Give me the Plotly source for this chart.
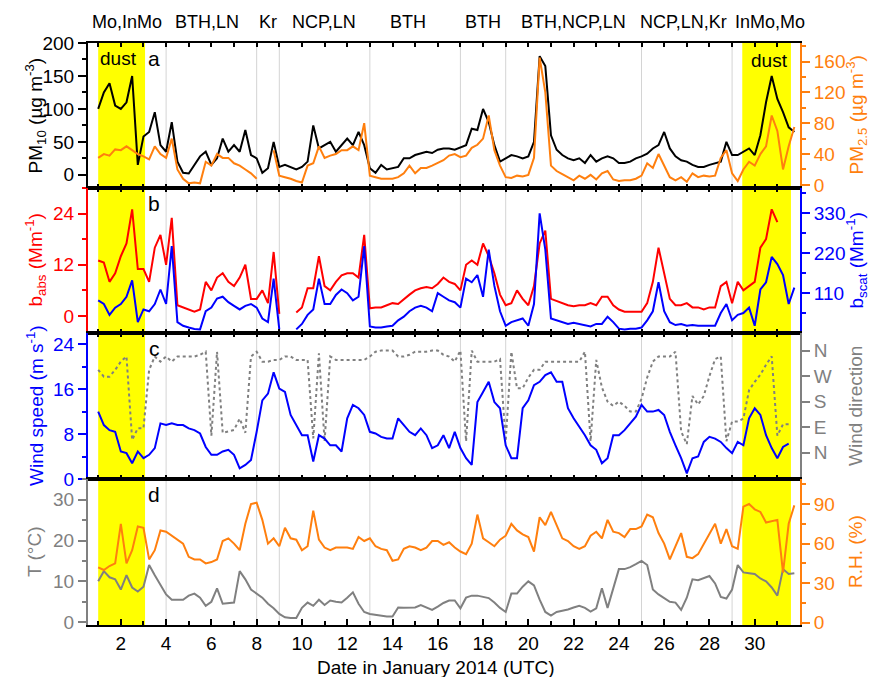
import plotly.graph_objects as go

# ---------------- data (values every 0.25 day, starting 1 Jan 00 UTC) ----------------
DAY_START = 1.0
STEP = 0.25

PM10 = [100,125,139,105,100,110,150,15,
        58,65,95,45,35,80,20,3,
        2,15,28,35,15,25,55,35,
        45,35,68,30,25,3,10,50,
        12,15,12,8,12,20,75,40,
        45,50,35,45,55,45,65,45,
        10,3,15,8,10,12,25,25,
        30,33,35,33,38,40,40,38,
        42,45,70,68,100,80,45,20,
        25,30,28,25,28,50,180,165,
        60,38,30,25,22,25,18,30,
        20,25,28,25,18,18,20,25,
        28,32,40,45,65,40,28,22,
        20,15,12,12,15,18,20,50,
        30,30,35,40,30,60,110,150,
        115,95,72,65]

PM25 = [35,40,38,46,45,50,45,40,
        37,33,50,40,35,60,20,8,
        2,3,2,30,25,40,35,35,
        28,25,20,15,8,None,None,45,
        12,10,8,5,3,25,28,50,
        35,38,40,45,45,50,45,80,
        12,10,8,8,8,10,15,25,
        15,22,22,25,28,32,38,40,
        36,38,48,52,60,90,45,25,
        10,9,12,11,13,35,165,120,
        25,18,14,10,6,12,8,13,
        7,15,18,7,5,6,6,8,
        12,28,22,40,25,10,6,10,
        4,15,10,12,11,12,35,45,
        15,5,20,30,25,40,50,90,
        70,20,50,75]

BABS = [13,12.5,8,10,14,17,25,11,
        11,8,16,19,12,23,2.5,2,
        1.5,1,1.5,8,6,9,10,8,
        7,9,12,4,4,6,3,15,
        0.5,None,None,0.8,2,6.5,6.5,14,
        7,6,8,9.5,10,10,9,19,
        1.8,2,2,2.5,3,2.8,4,5,
        6,6.5,6.8,6.5,7.5,9,8,7.5,
        6,12,13,12,17,14,10,5,
        2.5,3,6,4,2.5,7,17,20,
        4,3.5,3,2.5,2.3,2.5,2.5,3,
        2.5,4.5,4.5,2.5,1.5,1,1,1,
        1,3,8,16,10,4,2.5,2.5,
        3,2,2,1.5,2,2,7,8,
        3,8,6,7,8,16,18,25,
        22,None,None,None]

BSCAT = [90,80,50,70,80,100,145,30,
         65,60,80,120,80,240,30,20,
         15,11,10,60,70,95,100,85,
         75,65,75,80,70,40,30,150,
         10,None,None,10,25,50,65,150,
         80,80,105,120,110,90,100,240,
         18,15,15,18,20,35,45,60,
         70,75,70,60,110,100,90,85,
         70,150,140,160,100,230,130,60,
         20,30,35,40,20,80,330,230,
         40,35,30,25,28,25,20,18,
         25,25,45,30,12,10,12,12,
         15,35,60,140,60,30,22,25,
         20,22,20,20,18,20,55,80,
         35,50,55,70,20,120,140,210,
         190,160,80,125]

WIND_SPEED = [12,9.6,8.7,8.4,4.9,4.6,2.8,4.9,
              3.7,4.3,5.5,9.9,9.6,9.9,9.6,9.6,
              9,8.7,8.1,5.7,4.3,4.3,4.9,5.2,
              4.3,1.9,2.5,3.4,8.4,14,15.2,19,
              16.1,15.5,11.4,9.6,7.8,7.8,3.1,7.8,
              7.2,6,6,4.9,10.8,13.2,12.6,11.4,
              8.4,8.1,7.5,7.2,7.2,10.8,9.6,8.4,
              7.8,9,7.8,5.5,6,7.8,5.5,8.4,
              5.5,3.7,2.5,13.7,15.5,17.3,13.7,12.6,
              6,3.7,3.7,12.6,14,16.7,17.3,18.5,
              19,17.3,17.3,12.6,10.8,9.3,7.8,6,
              5.2,2.8,3.7,7.8,7.8,8.7,9.9,11.1,
              13.2,12,12,12.3,11.4,8.4,6,3.7,
              1,3.7,4,6.6,7.5,7.2,6.6,5.5,
              4.6,6.6,6,10.8,12.6,11.4,7.8,5.5,
              3.7,5.7,6.3,None]

WIND_DIR = [292,268,268,292,321,339,45,86,
            86,292,339,321,339,321,339,339,
            339,339,345,356,60,356,70,75,
            80,120,70,339,356,321,321,327,
            327,339,339,327,327,327,50,350,
            40,339,327,327,327,327,327,327,
            339,356,360,360,360,339,339,345,
            356,356,356,360,360,345,339,321,
            360,40,360,321,321,321,321,330,
            40,356,227,227,265,292,292,321,
            321,321,321,321,321,321,356,40,
            327,230,180,165,180,165,145,145,
            190,265,321,339,339,339,356,75,
            30,200,170,200,270,330,339,40,
            110,110,120,220,250,275,310,340,
            60,100,100,None]

TEMP = [10,12.5,11,10.5,8,11.5,8.5,7.5,
        8.7,14,11.5,9,6.8,5.5,5.5,5.5,
        6.5,7,6,4,5,8.3,4.5,4.7,
        4.8,12.5,10.5,8,7,6,4.5,3.4,
        2,1.2,1,1,3.5,4.8,4,5.5,
        4.2,5.3,5,4.8,6,7.3,4.5,2.5,
        2,1.8,1.6,1.4,1.4,3.6,3.5,3.5,
        3.6,4.2,3.5,3,3.8,4.7,5.3,5.3,
        3.4,6,6.5,6.5,6.2,5.9,4.8,3.5,
        2.5,7,7,8.7,10,9,5.5,2.5,
        1.6,2.5,2.8,3.1,3.6,4,3.5,2.6,
        3.4,8.3,3.5,8.5,13,13,13.5,14.2,
        15,14,8,6.8,5.8,5,4.8,3,
        6,10.5,10.3,10.8,11.3,9.5,6.2,5.8,
        8,14,12.2,12,11.8,10.7,10,8.5,
        6.5,13,11.8,12]

RH = [42,40,43,45,75,45,55,73,
      72,48,55,70,69,66,63,60,
      50,48,48,45,46,48,62,64,
      60,55,75,90,91,78,60,64,
      58,72,64,63,55,58,85,63,
      57,55,57,57,57,56,65,62,
      64,58,56,55,47,48,56,58,
      57,55,57,62,62,59,61,57,
      54,52,60,82,64,61,58,63,
      66,75,70,67,65,54,80,74,
      84,74,64,62,58,56,58,66,
      69,64,78,69,68,65,71,71,
      73,82,80,68,60,48,58,68,
      50,49,52,60,67,75,60,71,
      58,56,88,90,86,84,76,77,
      78,38,75,89]

DAY_TICKS = [2, 4, 6, 8, 10, 12, 14, 16, 18, 20, 22, 24, 26, 28, 30]
DIR_TICKS = [0, 90, 180, 270, 360]
DIR_LABELS = ["N", "E", "S", "W", "N"]

REGION_LABELS = ["Mo,InMo", "BTH,LN", "Kr", "NCP,LN", "BTH", "BTH",
                 "BTH,NCP,LN", "NCP,LN,Kr", "InMo,Mo"]
REGION_CENTERS = [2.27, 5.8, 8.5, 10.98, 14.69, 18.0, 21.98, 26.84, 30.67]
REGION_BOUNDS = [4, 8, 9, 13, 17, 19, 25, 29]
DUST_PERIODS = [(1.0, 3.07), (29.45, 31.6)]

n = len(PM10)
for arr in (PM25, BABS, BSCAT, WIND_SPEED, WIND_DIR, TEMP, RH):
    assert len(arr) == n, len(arr)
days = [DAY_START + STEP * i for i in range(n)]

# ---------------- style ----------------
FONT = "Liberation Sans, Arial, sans-serif"
FS = 19
BLACK = "#000000"
ORANGE = "#FF7F0E"
RED = "#FF0000"
BLUE = "#0000FF"
GRAY = "#808080"
YELLOW = "#FFFF00"

DOM = {"a": [0.7509, 1.0], "b": [0.5017, 0.7509], "c": [0.2509, 0.5017], "d": [0.0, 0.2509]}
XR = [0.55, 32.0]

fig = go.Figure()
fig.add_trace(go.Scatter(x=days, y=PM10, xaxis="x", yaxis="y", mode="lines",
                         line=dict(color=BLACK, width=2)))
fig.add_trace(go.Scatter(x=days, y=PM25, xaxis="x", yaxis="y2", mode="lines",
                         line=dict(color=ORANGE, width=2)))
fig.add_trace(go.Scatter(x=days, y=BABS, xaxis="x2", yaxis="y3", mode="lines",
                         line=dict(color=RED, width=2)))
fig.add_trace(go.Scatter(x=days, y=BSCAT, xaxis="x2", yaxis="y4", mode="lines",
                         line=dict(color=BLUE, width=2)))
fig.add_trace(go.Scatter(x=days, y=WIND_DIR, xaxis="x3", yaxis="y5", mode="lines",
                         line=dict(color=GRAY, width=2, dash="dot")))
fig.add_trace(go.Scatter(x=days, y=WIND_SPEED, xaxis="x3", yaxis="y6", mode="lines",
                         line=dict(color=BLUE, width=2)))
fig.add_trace(go.Scatter(x=days, y=TEMP, xaxis="x4", yaxis="y7", mode="lines",
                         line=dict(color=GRAY, width=2)))
fig.add_trace(go.Scatter(x=days, y=RH, xaxis="x4", yaxis="y8", mode="lines",
                         line=dict(color=ORANGE, width=2)))


def xax(anchor, bottom=False):
    d = dict(domain=[0, 1], range=XR, anchor=anchor, showline=True, linecolor=BLACK,
             linewidth=2, mirror="ticks", showgrid=False, zeroline=False,
             ticks="inside", tickmode="linear", tick0=1, dtick=1, ticklen=4,
             tickwidth=1.5, tickcolor=BLACK, showticklabels=False, automargin=False)
    if bottom:
        d.update(ticks="inside", tickmode="array", tickvals=DAY_TICKS, ticklen=6,
                 showticklabels=True, mirror=True,
                 tickfont=dict(family=FONT, size=FS, color=BLACK),
                 minor=dict(ticks="inside", tick0=1, dtick=2, ticklen=4,
                            tickwidth=1.5, tickcolor=BLACK))
    return d


def yax(color, rng, side, anchor, domain=None, overlaying=None, dtick=None,
        minor_dtick=None, tickvals=None, ticktext=None, minor_vals=None):
    d = dict(range=rng, side=side, anchor=anchor, showline=True, linecolor=color,
             linewidth=2, ticks="outside", ticklen=8, tickwidth=1.5, tickcolor=color,
             showgrid=False, zeroline=False, automargin=False,
             tickfont=dict(family=FONT, size=FS, color=color))
    if domain is not None:
        d["domain"] = domain
    if overlaying is not None:
        d["overlaying"] = overlaying
    if dtick is not None:
        d.update(tickmode="linear", tick0=0, dtick=dtick)
    if tickvals is not None:
        d.update(tickmode="array", tickvals=tickvals)
        if ticktext is not None:
            d["ticktext"] = ticktext
    if minor_dtick is not None:
        d["minor"] = dict(ticks="outside", tick0=0, dtick=minor_dtick, ticklen=4,
                          tickwidth=1.5, tickcolor=color)
    if minor_vals is not None:
        d["minor"] = dict(ticks="outside", tickmode="array", tickvals=minor_vals,
                          ticklen=4, tickwidth=1.5, tickcolor=color)
    return d


layout = dict(
    width=870, height=677,
    margin=dict(l=88, r=70, t=43, b=52, pad=0),
    paper_bgcolor="white", plot_bgcolor="rgba(0,0,0,0)",
    showlegend=False,
    font=dict(family=FONT, size=FS, color=BLACK),
    xaxis=xax("y"), xaxis2=xax("y3"), xaxis3=xax("y5"), xaxis4=xax("y7", bottom=True),
    yaxis=yax(BLACK, [-20, 200], "left", "x", domain=DOM["a"], dtick=50, minor_dtick=25),
    yaxis2=yax(ORANGE, [-4, 184], "right", "x", overlaying="y", dtick=40, minor_dtick=20),
    yaxis3=yax(RED, [-4, 30], "left", "x2", domain=DOM["b"], dtick=12, minor_dtick=6),
    yaxis4=yax(BLUE, [0, 400], "right", "x2", overlaying="y3", tickvals=[110, 220, 330],
               minor_vals=[55, 165, 275, 385]),
    yaxis5=yax(GRAY, [-93, 422], "right", "x3", domain=DOM["c"], tickvals=DIR_TICKS,
               ticktext=DIR_LABELS),
    yaxis6=yax(BLUE, [0, 26], "left", "x3", overlaying="y5", dtick=8, minor_dtick=4),
    yaxis7=yax(GRAY, [-0.7, 35.1], "left", "x4", domain=DOM["d"], dtick=10, minor_dtick=5),
    yaxis8=yax(ORANGE, [-1.7, 109], "right", "x4", overlaying="y7", dtick=30, minor_dtick=15),
)
fig.update_layout(**layout)

# shaded dust periods and region separators
shapes = []
for x0, x1 in DUST_PERIODS:
    shapes.append(dict(type="rect", xref="x", yref="paper", x0=x0, x1=x1, y0=0, y1=1,
                       fillcolor=YELLOW, line=dict(width=0), layer="below"))
for b in REGION_BOUNDS:
    shapes.append(dict(type="line", xref="x", yref="paper", x0=b, x1=b, y0=0, y1=1,
                       line=dict(color="#d4d4d4", width=1), layer="below"))
fig.update_layout(shapes=shapes)

ann = []
for t, c in zip(REGION_LABELS, REGION_CENTERS):
    ann.append(dict(text=t, x=c, xref="x", y=1.036, yref="paper", showarrow=False,
                    xanchor="center", yanchor="middle", font=dict(size=18, color=BLACK)))
for letter in ["a", "b", "c", "d"]:
    ann.append(dict(text=letter, x=3.47, xref="x", y=DOM[letter][1], yref="paper",
                    yanchor="top", xanchor="center", yshift=-2, showarrow=False,
                    font=dict(size=21, color=BLACK)))
ann.append(dict(text="dust", x=1.88, xref="x", y=1.0, yref="paper", yanchor="top",
                xanchor="center", yshift=-3, showarrow=False, font=dict(size=FS, color=BLACK)))
ann.append(dict(text="dust", x=30.67, xref="x", y=1.0, yref="paper", yanchor="top",
                xanchor="center", yshift=-5, showarrow=False, font=dict(size=FS, color=BLACK)))

LEFT_X = -0.0744
RIGHT_X = 1.0787
titles = [
    ("PM<sub>10</sub> (µg m<sup>-3</sup>)", LEFT_X, "a", BLACK),
    ("PM<sub>2.5</sub> (µg m<sup>-3</sup>)", RIGHT_X, "a", ORANGE),
    ("b<sub>abs</sub> (Mm<sup>-1</sup>)", LEFT_X, "b", RED),
    ("b<sub>scat</sub> (Mm<sup>-1</sup>)", RIGHT_X, "b", BLUE),
    ("Wind speed (m s<sup>-1</sup>)", LEFT_X, "c", BLUE),
    ("Wind direction", RIGHT_X, "c", GRAY),
    ("T (°C)", LEFT_X, "d", GRAY),
    ("R.H. (%)", RIGHT_X, "d", ORANGE),
]
for txt, xx, p, col in titles:
    ann.append(dict(text=txt, x=xx, xref="paper", y=sum(DOM[p]) / 2, yref="paper",
                    textangle=-90, xanchor="center", yanchor="middle", showarrow=False,
                    font=dict(size=FS, color=col)))
ann.append(dict(text="Date in January 2014 (UTC)", x=0.489, xref="paper", y=-0.0735,
                yref="paper", xanchor="center", yanchor="middle", showarrow=False,
                font=dict(size=FS, color=BLACK)))
fig.update_layout(annotations=ann)

fig.write_html("out.html")
